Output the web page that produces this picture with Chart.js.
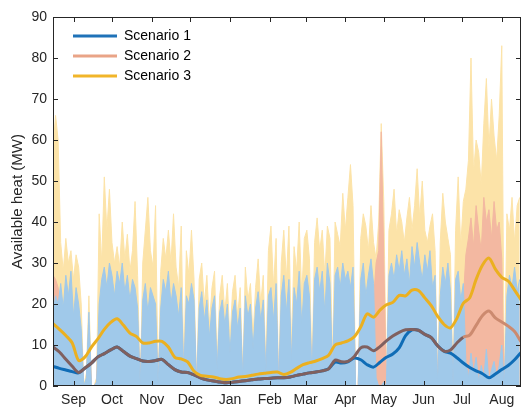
<!DOCTYPE html>
<html>
<head>
<meta charset="utf-8">
<script src="https://cdn.jsdelivr.net/npm/chart.js@4.4.0/dist/chart.umd.min.js"></script>
<style>
  html, body { margin: 0; padding: 0; background: #fff; }
  canvas { display: block; }
</style>
</head>
<body>
<canvas id="heat" width="522" height="408"></canvas>
<script>
// x axis is day of the year, starting 1 September
const months = ['Sep', 'Oct', 'Nov', 'Dec', 'Jan', 'Feb', 'Mar', 'Apr', 'May', 'Jun', 'Jul', 'Aug'];
const monthTickDays = [16, 46, 77, 107, 138, 169, 197, 228, 258, 289, 319, 350];
const scenarioNames = ['Scenario 1', 'Scenario 2', 'Scenario 3'];

// raw available heat, one value every 2 days (MW)
const scenario1Raw = [
  18, 22, 20,
  25, 19, 27, 22, 28, 17, 24, 20, 14,
  0, 2, 18, 0, 0, 1,
  20, 26, 29, 24, 30, 27, 22, 28, 25, 30, 23, 27, 21, 26, 24, 19,
  0,
  21, 25, 18, 24, 22, 20,
  0,
  19, 26, 23, 28, 20, 25, 22, 17,
  24, 3, 22, 20, 25, 21, 0, 19, 23, 16, 21, 12, 19, 22, 4, 18, 21, 15, 20,
  8, 18, 21, 14, 19, 2, 22, 17, 20, 9, 19, 23, 16, 21, 3, 22,
  24, 16, 25, 0, 22, 27, 18, 26, 6, 24, 20, 28, 15, 25,
  27, 22, 2, 26, 29, 23, 28, 18, 30, 25, 4, 27, 29, 24, 30, 26,
  28, 24, 29, 0, 0, 26, 30, 22, 27, 31, 25, 2, 0,
  0, 1, 0,
  27, 30, 26, 32, 28, 33, 27, 31, 25, 34, 29, 35, 30, 26, 32, 28, 33, 24, 27, 0, 22, 29, 25, 30, 23, 0, 26, 28, 21, 25,
  6, 2, 8, 3, 7, 1, 5, 2, 9, 1, 4, 6, 2, 5, 10, 0,
  22, 27, 24, 29, 23, 26
];
const scenario2Raw = [
  27, 26, 24,
  20, 18, 22, 17, 23, 14, 20, 16, 12,
  0, 1, 15, 0, 0, 1,
  17, 22, 25, 20, 26, 23, 19, 24, 21, 26, 19, 23, 18, 22, 20, 16,
  0,
  18, 21, 15, 20, 19, 17,
  0,
  16, 22, 20, 24, 17, 21, 19, 14,
  20, 2, 19, 17, 21, 18, 0, 16, 20, 13, 18, 10, 16, 19, 3, 15, 18, 12, 17,
  6, 15, 18, 11, 16, 1, 19, 14, 17, 7, 16, 20, 13, 18, 2, 19,
  20, 13, 21, 0, 18, 23, 15, 22, 5, 20, 17, 24, 12, 21,
  23, 19, 1, 22, 25, 20, 24, 15, 26, 21, 3, 23, 25, 20, 26, 22,
  24, 20, 25, 0, 0, 22, 26, 18, 23, 27, 21, 30, 33,
  62, 31, 0,
  23, 26, 22, 27, 24, 28, 23, 26, 21, 29, 25, 30, 26, 22, 27, 24, 28, 20, 23, 0, 19, 25, 21, 26, 19, 0, 22, 24, 18, 21,
  32, 36, 41, 34, 44, 38, 33, 46, 40, 43, 36, 45, 38, 40, 31, 0,
  18, 22, 19, 24, 17, 20
];
const scenario3Raw = [
  58, 66, 60,
  35, 28, 36, 30, 33, 26, 32, 29, 20,
  0, 3, 22, 0, 0, 2,
  42, 30, 51, 38, 48, 35, 30, 34, 29, 40, 31, 37, 28, 33, 45, 27,
  0,
  30, 38, 46, 33, 29, 44,
  0,
  28, 36, 31, 38, 30, 42, 29, 24,
  39, 5, 33, 27, 38, 26, 0, 26, 30, 20, 27, 15, 24, 28, 6, 22, 27, 18, 25,
  11, 23, 27, 17, 24, 3, 29, 21, 25, 12, 24, 31, 20, 27, 5, 33,
  39, 24, 36, 0, 30, 38, 26, 39, 9, 34, 28, 40, 22, 36,
  38, 31, 4, 35, 41, 33, 38, 27, 39, 36, 6, 40, 37, 34, 47, 38,
  46, 54, 44, 0, 0, 36, 42, 39, 33, 44, 35, 31, 40,
  64, 45, 0,
  38, 42, 48, 37, 43, 40, 35, 41, 46, 38, 44, 53, 41, 50, 38, 35, 39, 42, 33, 0, 35, 47, 40, 36, 32, 0, 38, 51, 34, 45,
  48, 55, 80, 52, 60, 57, 49, 64, 75, 58, 70, 61, 55, 66, 83, 0,
  42, 38, 46, 35, 44, 46
];

// smoothed trend, one value every 5 days (MW)
const scenario1Smooth = [
  4.8, 4.3, 3.9, 3.5, 3.2,
  4.4, 5.6, 7.1, 7.9, 8.8, 9.5, 8.4, 7.3, 6.7, 6.1, 6.0, 6.2, 6.5, 5.2, 4.0,
  3.4, 3.3, 2.7, 2.0, 1.5, 1.2, 1.0, 0.8, 0.9, 1.1, 1.3, 1.5, 1.7, 1.8, 1.9,
  2.0, 2.0, 2.2, 2.6, 2.9, 3.2, 3.4, 3.7, 4.2,
  5.8, 5.6, 5.9, 6.8, 6.4, 5.2, 4.6, 5.8, 7.0, 7.8, 9.3, 12.3, 13.7, 13.6, 12.6,
  11.8, 9.8, 8.5, 8.0, 6.9, 5.6, 4.5, 3.7, 3.0, 2.0, 2.9, 4.0, 5.0, 6.4, 8.2
];
const scenario2Smooth = [
  9.5, 8.3, 6.5, 4.8, 3.3, 4.4, 5.6, 7.1, 7.9, 8.8, 9.5, 8.4, 7.3, 6.7, 6.1,
  6.0, 6.2, 6.5, 5.2, 4.0, 3.4, 3.3, 2.7, 2.0, 1.5, 1.2, 1.0, 0.8, 0.9, 1.1,
  1.3, 1.5, 1.7, 1.8, 1.9, 2.0, 2.0, 2.2, 2.6, 2.9, 3.2, 3.4, 3.7, 4.2, 6.3,
  5.9, 6.0, 7.2, 9.3, 9.5, 8.6, 9.6, 11.0, 12.2, 13.1, 13.7, 13.8, 13.6, 12.6,
  11.8, 9.8, 8.5, 8.8, 10.5, 11.9, 12.4, 14.8, 17.2, 18.3, 16.6, 15.6, 14.6, 13.3, 10.8
];
const scenario3Smooth = [
  15.2, 13.8, 12.3, 10.5, 6.2, 7.1, 9.5, 11.5, 13.8, 15.5, 16.4, 14.8, 12.9, 12.1, 10.5,
  10.5, 10.9, 10.9, 9.5, 7.0, 6.6, 5.9, 3.6, 2.6, 2.4, 2.2, 1.8, 1.6, 1.8, 2.2,
  2.3, 2.6, 2.9, 3.1, 3.3, 3.4, 2.8, 3.3, 4.3, 5.2, 5.7, 6.1, 6.7, 7.5, 10.0,
  10.5, 11.0, 12.0, 14.4, 17.6, 16.8, 18.5, 19.8, 20.4, 22.1, 22.0, 23.4, 23.3, 21.5,
  19.6, 17.0, 15.0, 14.2, 16.5, 20.2, 21.5, 26.0, 29.5, 31.2, 28.5, 26.5, 25.6, 23.4, 21.0
];

const rawDays = scenario1Raw.map((v, i) => i * 2);
const smoothDays = scenario1Smooth.map((v, i) => i * 5);

const FONT = "'Liberation Sans', Arial, Helvetica, sans-serif";
const INK = '#262626';
const fillColors = ['#a0c9ea', '#f3b8a1', '#fce3a8'];
const lineColors = ['#0f6cb6', '#80605f', '#ebb020'];
const s2LateColor = '#cc8a6f';
const legendColors = ['#1f72b8', '#e9a487', '#f1b52a'];

Chart.defaults.font.family = FONT;
Chart.defaults.color = INK;

const toPoints = (days, vals) => vals.map((v, i) => ({ x: days[i], y: v }));

function fillSet(label, vals, color, order) {
  return {
    label: label,
    data: toPoints(rawDays, vals),
    backgroundColor: color,
    borderColor: color,
    borderWidth: 1,
    fill: 'origin',
    pointRadius: 0,
    tension: 0,
    order: order
  };
}

function lineSet(label, vals, color, order) {
  return {
    label: label,
    data: toPoints(smoothDays, vals),
    borderColor: color,
    borderWidth: 3,
    fill: false,
    pointRadius: 0,
    tension: 0.3,
    order: order
  };
}

const s2Line = lineSet(scenarioNames[1], scenario2Smooth, lineColors[1], 1);
s2Line.segment = { borderColor: c => c.p0.parsed.x >= 318 ? s2LateColor : lineColors[1] };

// box round the plot with inward ticks on all four sides
const frame = {
  id: 'frame',
  afterDraw(chart) {
    const { ctx, chartArea: a, scales } = chart;
    const len = 5;
    ctx.save();
    ctx.strokeStyle = INK;
    ctx.lineWidth = 1;
    ctx.strokeRect(a.left + 0.5, a.top + 0.5, a.right - a.left - 1, a.bottom - a.top - 1);
    ctx.beginPath();
    scales.y.ticks.forEach(t => {
      const py = Math.round(scales.y.getPixelForValue(t.value)) + 0.5;
      ctx.moveTo(a.left, py); ctx.lineTo(a.left + len, py);
      ctx.moveTo(a.right, py); ctx.lineTo(a.right - len, py);
    });
    scales.x.ticks.forEach(t => {
      const px = Math.round(scales.x.getPixelForValue(t.value)) + 0.5;
      ctx.moveTo(px, a.bottom); ctx.lineTo(px, a.bottom - len);
      ctx.moveTo(px, a.top); ctx.lineTo(px, a.top + len);
    });
    ctx.stroke();
    ctx.restore();
  }
};

// nudge the in-plot legend to where the original sits
const legendSpot = {
  id: 'legendSpot',
  afterLayout(chart) {
    chart.legend.left += 14;
    chart.legend.top += 23;
  }
};

new Chart(document.getElementById('heat'), {
  type: 'line',
  data: {
    datasets: [
      lineSet(scenarioNames[0], scenario1Smooth, lineColors[0], 2),
      s2Line,
      lineSet(scenarioNames[2], scenario3Smooth, lineColors[2], 0),
      fillSet(scenarioNames[0] + ' raw', scenario1Raw, fillColors[0], 10),
      fillSet(scenarioNames[1] + ' raw', scenario2Raw, fillColors[1], 11),
      fillSet(scenarioNames[2] + ' raw', scenario3Raw, fillColors[2], 12)
    ]
  },
  options: {
    responsive: false,
    animation: false,
    events: [],
    layout: { padding: { top: 17, right: 1, left: 0, bottom: 0 } },
    scales: {
      x: {
        type: 'linear',
        min: 0,
        max: 365,
        grid: { display: false, drawTicks: false },
        border: { display: false },
        afterBuildTicks: s => { s.ticks = monthTickDays.map(v => ({ value: v })); },
        afterFit: s => { s.height = 22; },
        ticks: {
          autoSkip: false,
          maxRotation: 0,
          padding: 6,
          color: INK,
          font: { size: 14 },
          callback: (v, i) => months[i]
        }
      },
      y: {
        min: 0,
        max: 90,
        grid: { display: false, drawTicks: false },
        border: { display: false },
        afterFit: s => { s.width = 53; },
        ticks: { stepSize: 10, padding: 6, color: INK, font: { size: 14 } },
        title: {
          display: true,
          text: 'Available heat (MW)',
          color: INK,
          font: { size: 15 },
          padding: { top: 9, bottom: 0 }
        }
      }
    },
    plugins: {
      tooltip: { enabled: false },
      legend: {
        position: 'chartArea',
        align: 'start',
        labels: {
          boxWidth: 44,
          boxHeight: 3,
          padding: 6,
          color: '#111',
          font: { size: 14 },
          generateLabels: () => scenarioNames.map((n, i) => ({
            text: n,
            fillStyle: legendColors[i],
            strokeStyle: legendColors[i],
            lineWidth: 0,
            hidden: false,
            datasetIndex: i
          }))
        }
      }
    }
  },
  plugins: [frame, legendSpot]
});
</script>
</body>
</html>
